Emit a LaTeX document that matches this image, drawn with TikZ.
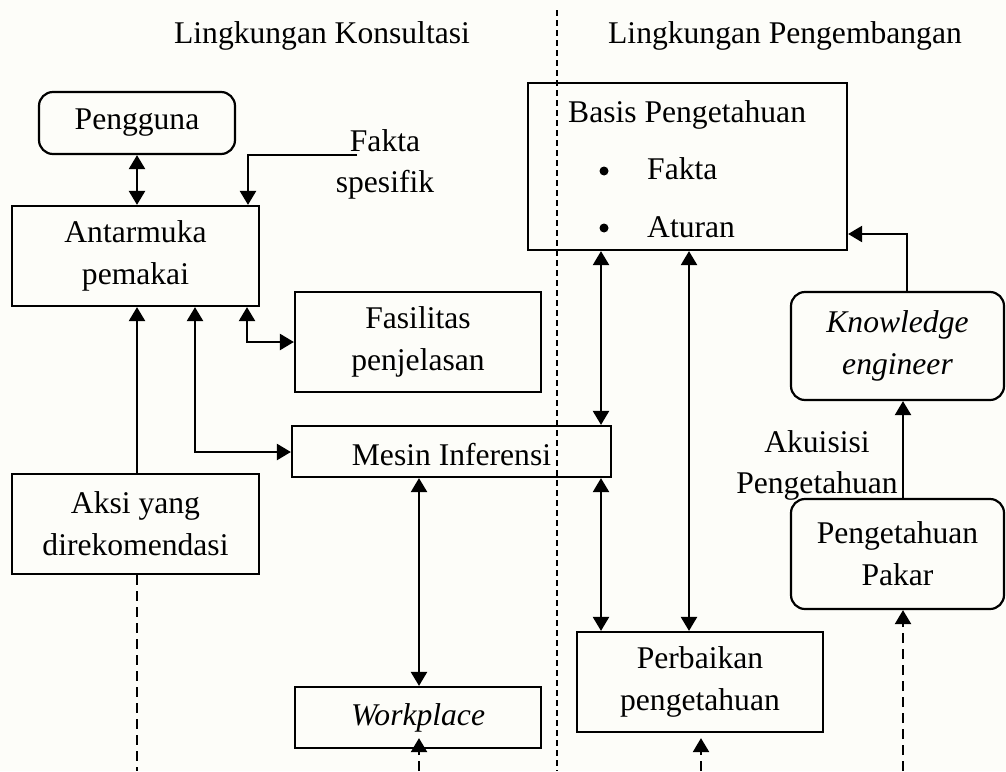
\documentclass[tikz,border=0pt]{standalone}
\usepackage{fontspec}
\setmainfont{Liberation Serif}
\usetikzlibrary{arrows.meta,calc}
\definecolor{paper}{RGB}{253,253,249}
\begin{document}
\begin{tikzpicture}[x=1pt,y=-1pt,
  txt/.style={font=\fontsize{31.6pt}{42pt}\selectfont},
  ital/.style={font=\fontsize{31.6pt}{42pt}\selectfont\itshape},
  box/.style={draw, line width=2.2pt, inner sep=0pt, align=center, txt},
  rbox/.style={box, rounded corners=14pt},
  size/.style 2 args={minimum width=#1pt, minimum height=#2pt},
  link/.style={line width=2.3pt},
  tip/.style={-{Triangle[length=14pt,width=16pt]}},
  both/.style={{Triangle[length=14pt,width=16pt]}-{Triangle[length=14pt,width=16pt]}},
  dashlink/.style={link, dash pattern=on 10pt off 6pt},
  divider/.style={line width=1.6pt, dash pattern=on 6pt off 4pt}]

% page
\fill[paper] (0,0) rectangle (1006,771);
\useasboundingbox (0,0) rectangle (1006,771);

% guide columns and rows for the connectors
\coordinate (c137) at (137,0);
\coordinate (c195) at (195,0);
\coordinate (c247) at (247,0);
\coordinate (c248) at (248,0);
\coordinate (c419) at (419,0);
\coordinate (c601) at (601,0);
\coordinate (c689) at (689,0);
\coordinate (c701) at (701,0);
\coordinate (c903) at (903,0);
\coordinate (c907) at (907,0);
\coordinate (r234) at (0,234);
\coordinate (r342) at (0,342);
\coordinate (r452) at (0,452);

% headings
\node[txt, anchor=base] (hk) at (322,43) {Lingkungan Konsultasi};
\node[txt, anchor=base] (hp) at (785,43) {Lingkungan Pengembangan};

% divider between the two environments
\coordinate (dv1) at (557,10);
\coordinate (dv2) at (557,771);
\draw[divider] (dv1) -- (dv2);

% consultation side
\node[rbox, size={196}{62}] (pg) at (137,123) {Pengguna};
\node[box, size={247}{100}] (ant) at (135.5,256) {Antarmuka\\pemakai};
\node[box, size={246}{100}] (fas) at (418,342) {Fasilitas\\penjelasan};
\node[box, size={319}{51}, text height=27pt, text depth=0pt] (mes) at (451.5,451.5) {Mesin Inferensi};
\node[box, size={247}{100}] (aksi) at (135.5,524) {Aksi yang\\direkomendasi};
\node[box, ital, size={246}{61}] (work) at (418,717.5) {Workplace};

\node[txt, anchor=base] (fs1) at (385,151) {Fakta};
\node[txt, anchor=base] (fs2) at (385,192) {spesifik};

% development side
\node[box, size={319}{167}] (bas) at (687.5,166.5) {};
\node[txt, anchor=base west, inner sep=0pt] (bt) at (568,122) {Basis Pengetahuan};
\node[txt, anchor=base west, inner sep=0pt] (b1) at (647,179) {Fakta};
\node[txt, anchor=base west, inner sep=0pt] (b2) at (647,237) {Aturan};
\fill (604,171) circle (4.5pt);
\fill (604,228) circle (4.5pt);

\node[box, size={246}{100}] (per) at (700,682) {Perbaikan\\pengetahuan};
\node[rbox, ital, size={213}{108}] (ke) at (897.5,346) {Knowledge\\engineer};
\node[rbox, size={213}{110}] (pk) at (897.5,554) {Pengetahuan\\Pakar};
\node[txt, anchor=base] (ak1) at (817,452) {Akuisisi};
\node[txt, anchor=base] (ak2) at (817,493) {Pengetahuan};

% connectors
\draw[link,both] (pg.south -| c137) -- (ant.north -| c137);
\coordinate (fk) at (357,155);
\draw[link,tip] (fk) -| (ant.north -| c248);
\draw[link,both] (ant.south -| c247) |- (fas.west |- r342);
\draw[link,tip] (aksi.north -| c137) -- (ant.south -| c137);
\draw[link,both] (ant.south -| c195) |- (mes.west |- r452);
\draw[link,both] (mes.south -| c419) -- (work.north -| c419);
\draw[link,both] (bas.south -| c601) -- (mes.north -| c601);
\draw[link,both] (mes.south -| c601) -- (per.north -| c601);
\draw[link,both] (bas.south -| c689) -- (per.north -| c689);
\draw[link,tip] (ke.north -| c907) |- (bas.east |- r234);
\draw[link,tip] (pk.north -| c903) -- (ke.south -| c903);

% dashed feeds along the bottom edge
\coordinate (d137) at (137,771);
\coordinate (d419) at (419,771);
\coordinate (d701) at (701,771);
\coordinate (d903) at (903,771);
\draw[dashlink] (aksi.south -| c137) -- (d137);
\draw[dashlink,tip] (d419) -- ($(work.south -| c419)+(0,-11)$);
\draw[dashlink,tip] (d701) -- ($(per.south -| c701)+(0,5)$);
\draw[dashlink,tip] (d903) -- (pk.south -| c903);
\end{tikzpicture}
\end{document}
